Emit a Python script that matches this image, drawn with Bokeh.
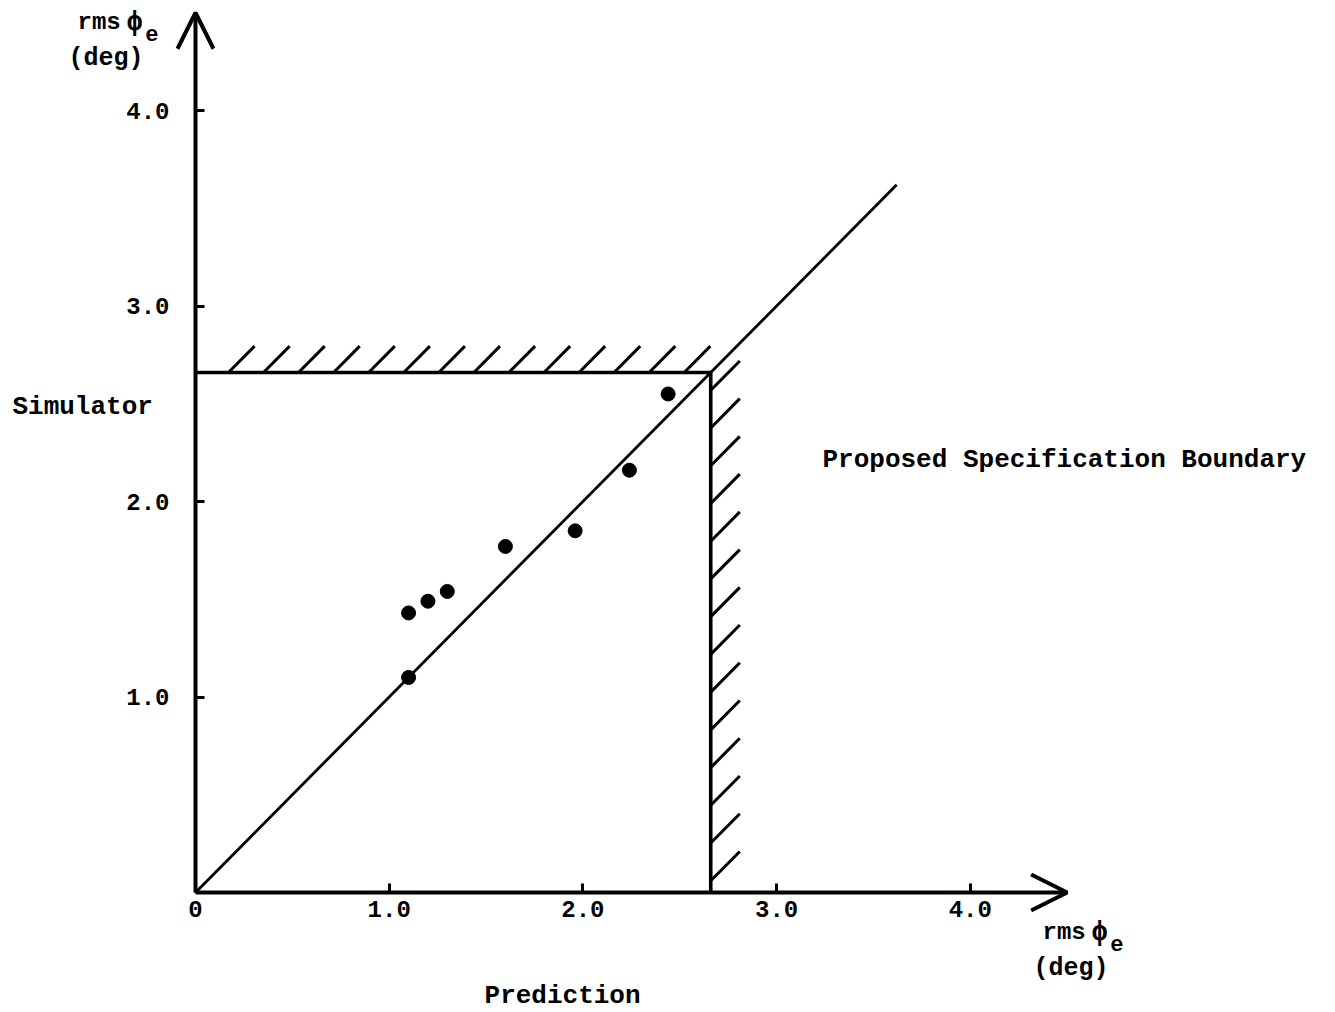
import numpy as np
from bokeh.plotting import figure
from bokeh.models import Range1d, FixedTicker, Arrow, OpenHead, Label, NumeralTickFormatter
from bokeh.embed import file_html
from bokeh.resources import INLINE

# rms phase error (deg): model prediction vs. simulator measurement
prediction = [1.10, 1.20, 1.30, 1.10, 1.60, 1.96, 2.24, 2.44]
simulator = [1.43, 1.49, 1.54, 1.10, 1.77, 1.85, 2.16, 2.55]

spec_boundary = 2.66      # proposed specification limit, both axes
diag_end = 3.62           # extent of the 1:1 reference line
axis_end = 4.5
x_ticks = [0, 1, 2, 3, 4]
y_ticks = [1, 2, 3, 4]

FONT = "Liberation Mono"
INK = "black"

# the plotting frame fills the whole canvas; axes are pinned at the origin
p = figure(width=1335, height=1012,
           x_range=Range1d(-1.0067, 5.8854), y_range=Range1d(-0.6138, 4.5627),
           output_backend="svg", toolbar_location=None,
           min_border_left=0, min_border_bottom=0,
           min_border_top=0, min_border_right=0)
p.outline_line_color = None
p.grid.visible = False
p.background_fill_color = "white"
p.border_fill_color = "white"

for ax, ticks in ((p.xaxis, x_ticks), (p.yaxis, y_ticks)):
    ax.fixed_location = 0
    ax.ticker = FixedTicker(ticks=ticks)
    ax.formatter = NumeralTickFormatter(format="0.0")
    ax.axis_line_color = None
    ax.major_tick_in = 9
    ax.major_tick_out = 0
    ax.major_tick_line_width = 3
    ax.major_tick_line_color = INK
    ax.minor_tick_line_color = None
    ax.major_label_text_font = FONT
    ax.major_label_text_font_size = "24px"
    ax.major_label_text_font_style = "bold"
    ax.major_label_text_color = INK
p.xaxis.major_label_overrides = {0: "0"}
p.xaxis.major_label_standoff = 8
p.yaxis.major_label_standoff = 26
p.yaxis.major_label_orientation = "horizontal"

# axis lines with open arrow heads
p.add_layout(Arrow(x_start=0, y_start=0, x_end=axis_end, y_end=0,
                   line_width=4, line_color=INK,
                   end=OpenHead(size=36, line_width=4, line_color=INK)))
p.add_layout(Arrow(x_start=0, y_start=0, x_end=0, y_end=axis_end,
                   line_width=4, line_color=INK,
                   end=OpenHead(size=36, line_width=4, line_color=INK)))

# 1:1 line
p.line([0, diag_end], [0, diag_end], line_width=2.8, color=INK)

# specification boundary box
p.line([0, spec_boundary, spec_boundary], [spec_boundary, spec_boundary, 0],
       line_width=3.6, color=INK, line_join="miter")

# hatching on the outside of the boundary
h = 0.135
top_x = np.arange(0.17, spec_boundary - 0.1, 0.181)
p.segment(x0=top_x, y0=np.full_like(top_x, spec_boundary),
          x1=top_x + h, y1=np.full_like(top_x, spec_boundary) + h,
          line_width=3, color=INK)
side_y = np.arange(0.06, spec_boundary - 0.05, 0.193)
p.segment(x0=np.full_like(side_y, spec_boundary), y0=side_y,
          x1=np.full_like(side_y, spec_boundary) + 0.15, y1=side_y + 0.15,
          line_width=3, color=INK)

# data points
p.scatter(prediction, simulator, size=14, color=INK)


def label(x, y, text, size="26px", align="left"):
    p.add_layout(Label(x=x, y=y, text=text, text_font=FONT, text_font_size=size,
                       text_font_style="bold", text_color=INK,
                       text_align=align, text_baseline="middle"))


label(-0.945, 2.481, "Simulator")
label(3.237, 2.210, "Proposed Specification Boundary")
label(1.895, -0.527, "Prediction", align="center")


def axis_title(x, y):
    # "rms ϕ" with subscript e, and the unit underneath
    label(x, y, "rms", size="24px")
    label(x + 0.252, y, "ϕ", size="28px")
    label(x + 0.35, y - 0.056, "e", size="22px")
    label(x - 0.047, y - 0.184, "(deg)", size="25px")


axis_title(-0.609, 4.450)
axis_title(4.373, -0.205)

open("out.html", "w").write(file_html(p, INLINE))
